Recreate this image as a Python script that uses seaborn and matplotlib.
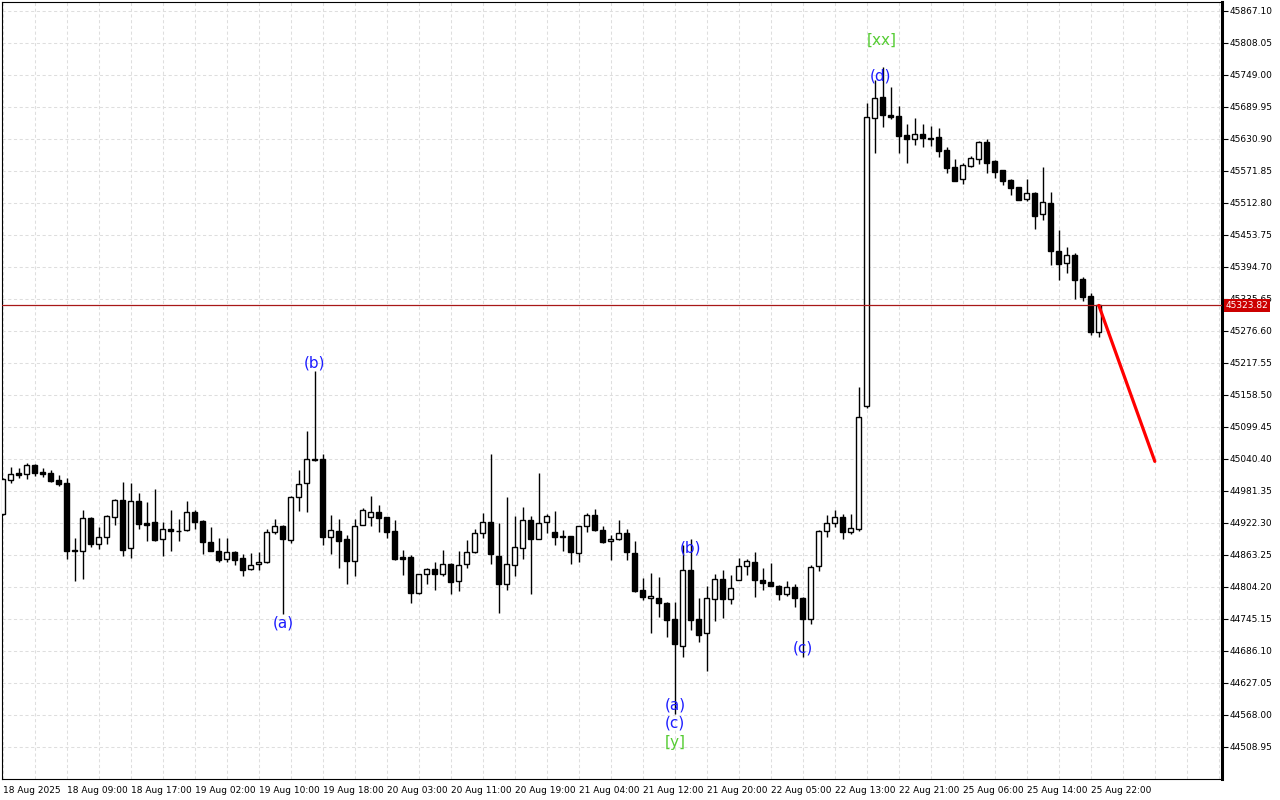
import pandas as pd
import matplotlib
matplotlib.use("Agg")
import matplotlib.pyplot as plt
import seaborn as sns
from matplotlib.ticker import FixedLocator

# hourly candles, 18 Aug 2025 -> 25 Aug 2025 (bar index 0..137)
OPEN = [
    44939, 45002, 45015, 45013, 45029, 45016, 45015, 45002, 44996, 44872,
    44871, 44932, 44884, 44897, 44933, 44965, 44876, 44963, 44922, 44924,
    44893, 44911, 44908, 44909, 44943, 44926, 44887, 44871, 44856, 44869,
    44858, 44837, 44847, 44850, 44906, 44917, 44891, 44970, 44996, 45040,
    45040, 44897, 44908, 44893, 44852, 44919, 44933, 44943, 44933, 44908,
    44860, 44860, 44793, 44828, 44837, 44828, 44847, 44815, 44847, 44869,
    44904, 44924, 44861, 44810, 44845, 44876, 44928, 44893, 44924, 44906,
    44898, 44898, 44867, 44917, 44937, 44909, 44889, 44893, 44904, 44867,
    44799, 44784, 44784, 44775, 44745, 44695, 44836, 44745, 44719, 44782,
    44819, 44782, 44817, 44843, 44850, 44817, 44813, 44806, 44791, 44804,
    44784, 44745, 44843, 44907, 44922, 44933, 44906, 44911, 45138, 45670,
    45708, 45675, 45673, 45638, 45631, 45640, 45633, 45635, 45611, 45579,
    45557, 45581, 45594, 45625, 45590, 45574, 45555, 45542, 45520, 45531,
    45492, 45513, 45424, 45402, 45417, 45373, 45341, 45275,
]
HIGH = [
    45005, 45026, 45024, 45033, 45031, 45024, 45020, 45011, 45005, 44895,
    44946, 44933, 44915, 44937, 44966, 44998, 44996, 44978, 44961, 44985,
    44924, 44946, 44930, 44963, 44946, 44928, 44915, 44895, 44895, 44871,
    44865, 44867, 44869, 44911, 44930, 44919, 44972, 45020, 45092, 45203,
    45050, 44937, 44930, 44900, 44930, 44950, 44972, 44956, 44934, 44928,
    44873, 44863, 44829, 44840, 44850, 44872, 44848, 44871, 44891, 44911,
    44941, 45050, 44922, 44970, 44935, 44952, 44935, 45015, 44939, 44944,
    44909, 44899, 44917, 44941, 44948, 44917, 44900, 44928, 44911, 44889,
    44821, 44830, 44823, 44776, 44777, 44882, 44893, 44784, 44806, 44828,
    44836, 44826, 44858, 44856, 44869, 44839, 44849, 44807, 44815, 44810,
    44785, 44845, 44909, 44937, 44946, 44939, 44939, 45173, 45697, 45740,
    45764, 45727, 45692, 45659, 45670, 45659, 45655, 45651, 45616, 45594,
    45587, 45600, 45627, 45631, 45592, 45574, 45557, 45543, 45557, 45533,
    45579, 45533, 45463, 45432, 45421, 45376, 45347, 45326,
]
LOW = [
    44937, 44996, 45005, 45003, 45009, 45007, 44998, 44991, 44856, 44815,
    44819, 44878, 44874, 44884, 44919, 44861, 44858, 44911, 44889, 44889,
    44861, 44871, 44889, 44908, 44911, 44865, 44870, 44850, 44850, 44845,
    44825, 44836, 44836, 44849, 44902, 44754, 44885, 44944, 44943, 45037,
    44882, 44865, 44839, 44810, 44825, 44918, 44917, 44906, 44895, 44854,
    44826, 44775, 44791, 44810, 44799, 44825, 44791, 44797, 44839, 44867,
    44895, 44847, 44756, 44799, 44825, 44856, 44791, 44892, 44904, 44882,
    44871, 44847, 44850, 44906, 44908, 44885, 44854, 44891, 44854, 44795,
    44780, 44719, 44749, 44712, 44570, 44675, 44725, 44703, 44649, 44741,
    44747, 44773, 44817, 44826, 44786, 44799, 44806, 44780, 44788, 44767,
    44675, 44736, 44834, 44896, 44915, 44893, 44902, 44908, 45134, 45605,
    45653, 45668, 45605, 45587, 45620, 45616, 45618, 45598, 45568, 45553,
    45548, 45579, 45585, 45568, 45559, 45546, 45528, 45518, 45516, 45465,
    45481, 45398, 45371, 45384, 45336, 45332, 45269, 45266,
]
CLOSE = [
    45003, 45013, 45011, 45029, 45014, 45013, 45000, 44994, 44871, 44871,
    44932, 44884, 44897, 44935, 44965, 44872, 44963, 44920, 44919, 44891,
    44911, 44908, 44907, 44943, 44924, 44887, 44871, 44854, 44869, 44854,
    44836, 44845, 44850, 44906, 44917, 44893, 44970, 44994, 45040, 45039,
    44897, 44909, 44889, 44852, 44917, 44946, 44943, 44932, 44906, 44856,
    44856, 44793, 44828, 44837, 44828, 44847, 44813, 44845, 44869, 44904,
    44924, 44865, 44810, 44847, 44878, 44928, 44893, 44922, 44935, 44897,
    44897, 44869, 44916, 44937, 44909, 44887, 44893, 44904, 44869, 44797,
    44786, 44788, 44775, 44743, 44699, 44836, 44743, 44716, 44784, 44819,
    44782, 44802, 44843, 44852, 44817, 44812, 44806, 44791, 44804, 44784,
    44745, 44841, 44907, 44922, 44933, 44906, 44913, 45118, 45671, 45707,
    45675, 45672, 45636, 45631, 45640, 45633, 45631, 45609, 45577, 45553,
    45583, 45596, 45625, 45587, 45570, 45553, 45541, 45518, 45531, 45489,
    45515, 45424, 45400, 45417, 45371, 45339, 45275, 45323.82,
]

LAST_PRICE = 45323.82
FORECAST_BARS = [137, 144]
FORECAST_PRICES = [45323.82, 45036.0]

X_TICK_BARS = list(range(0, 137, 8))
X_TICK_LABELS = [
    "18 Aug 2025", "18 Aug 09:00", "18 Aug 17:00", "19 Aug 02:00",
    "19 Aug 10:00", "19 Aug 18:00", "20 Aug 03:00", "20 Aug 11:00",
    "20 Aug 19:00", "21 Aug 04:00", "21 Aug 12:00", "21 Aug 20:00",
    "22 Aug 05:00", "22 Aug 13:00", "22 Aug 21:00", "25 Aug 06:00",
    "25 Aug 14:00", "25 Aug 22:00",
]
Y_TICKS = [
    45867.10, 45808.05, 45749.00, 45689.95, 45630.90, 45571.85, 45512.80,
    45453.75, 45394.70, 45335.65, 45276.60, 45217.55, 45158.50, 45099.45,
    45040.40, 44981.35, 44922.30, 44863.25, 44804.20, 44745.15, 44686.10,
    44627.05, 44568.00, 44508.95,
]

# wave labels
WAVE_TEXT = ["(b)", "(a)", "(b)", "(a)", "(c)", "[y]", "(c)", "(d)", "[xx]"]
WAVE_BARS = [39, 35, 86, 84, 84, 84, 100, 109.7, 109.9]
WAVE_PRICES = [45217.5, 44737.8, 44876.2, 44586.5, 44553.3, 44516.4,
               44691.6, 45747.2, 45813.6]
WAVE_KIND = ["minor", "minor", "minor", "minor", "minor", "major",
             "minor", "minor", "major"]

BLUE = "#1c1cff"
GREEN = "#55cc33"


def graficar_velas(ax, df):
    alcistas = df["close"] >= df["open"]
    ax.vlines(df["bar"], df["low"], df["high"], color="black", lw=1, zorder=2)
    cuerpo = (df["close"] - df["open"]).abs()
    base = df[["open", "close"]].min(axis=1)
    colores = ["white" if a else "black" for a in alcistas]
    ax.bar(df["bar"], cuerpo, bottom=base, width=0.6, color=colores,
           edgecolor="black", linewidth=1, zorder=3)


def main():
    sns.set_style("white")
    plt.rcParams["font.family"] = ["DejaVu Sans"]

    df = pd.DataFrame({
        "bar": range(len(OPEN)),
        "open": OPEN, "high": HIGH, "low": LOW, "close": CLOSE,
    })

    fig = plt.figure(figsize=(12.8, 8), dpi=100)
    ax = fig.add_axes([0.0016, 0.02625, 0.9531, 0.97125])

    graficar_velas(ax, df)

    ax.axhline(LAST_PRICE, color="#a81818", lw=0.9, zorder=4)
    sns.lineplot(x=FORECAST_BARS, y=FORECAST_PRICES, ax=ax, color="#ff0000",
                 lw=2.3, zorder=5)

    for txt, b, p, kind in zip(WAVE_TEXT, WAVE_BARS, WAVE_PRICES, WAVE_KIND):
        ax.text(b, p, txt, color=GREEN if kind == "major" else BLUE,
                fontsize=11, ha="center", va="center", zorder=6)

    ax.set_xlim(-0.1, 152.4)
    ax.set_ylim(44449.9, 45883.7)

    ax.xaxis.set_major_locator(FixedLocator(X_TICK_BARS))
    ax.xaxis.set_minor_locator(FixedLocator(list(range(0, 153, 4))))
    ax.set_xticklabels(X_TICK_LABELS)
    for lbl in ax.get_xticklabels():
        lbl.set_ha("left")
    ax.yaxis.tick_right()
    ax.set_yticks(Y_TICKS)
    ax.set_yticklabels([f"{v:.2f}" for v in Y_TICKS])

    ax.tick_params(axis="x", which="major", direction="out", length=4,
                   width=0.8, labelsize=6.5, pad=1, colors="black")
    ax.tick_params(axis="x", which="minor", length=0)
    ax.tick_params(axis="y", direction="out", length=4, width=0.8,
                   labelsize=6.5, pad=1.5, colors="black")

    ax.grid(True, which="both", axis="x", color="#dedede", lw=0.75,
            linestyle=(0, (3, 2.5)))
    ax.grid(True, which="major", axis="y", color="#dedede", lw=0.75,
            linestyle=(0, (3, 2.5)))
    ax.set_axisbelow(True)

    for lado in ["left", "top", "bottom"]:
        ax.spines[lado].set_color("black")
        ax.spines[lado].set_linewidth(0.8)
    ax.spines["right"].set_color("black")
    ax.spines["right"].set_linewidth(2.2)

    ax.annotate(f"{LAST_PRICE:.2f}", xy=(1.0, LAST_PRICE),
                xycoords=("axes fraction", "data"), xytext=(2.5, 0),
                textcoords="offset points", ha="left", va="center",
                fontsize=6.5, color="white", annotation_clip=False,
                bbox=dict(boxstyle="square,pad=0.2", fc="#cc0000", ec="none"),
                zorder=10)

    ax.set_xlabel("")
    ax.set_ylabel("")
    plt.savefig("out.png", dpi=100)
    plt.close()


if __name__ == "__main__":
    main()
